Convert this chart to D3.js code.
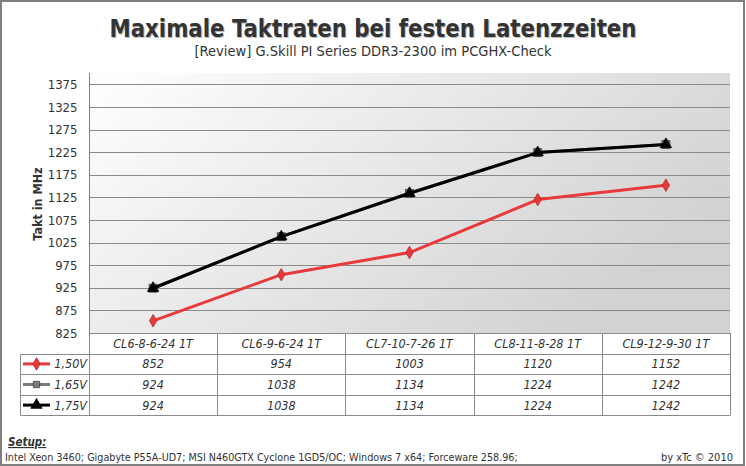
<!DOCTYPE html>
<html>
<head>
<meta charset="utf-8">
<script src="https://cdn.jsdelivr.net/npm/d3@7"></script>
<style>
  body { margin: 0; background: #fff; }
  svg { display: block; }
  text { font-family: "DejaVu Sans Condensed", "DejaVu Sans", sans-serif; font-stretch: condensed; fill: #333; }
</style>
</head>
<body>
<svg id="chart" width="746" height="466"></svg>
<script>
// data
const categories = ["CL6-8-6-24 1T", "CL6-9-6-24 1T", "CL7-10-7-26 1T", "CL8-11-8-28 1T", "CL9-12-9-30 1T"];
const seriesNames = ["1,50V", "1,65V", "1,75V"];
const values150 = [852, 954, 1003, 1120, 1152];
const values165 = [924, 1038, 1134, 1224, 1242];
const values175 = [924, 1038, 1134, 1224, 1242];
const yTicks = [825, 875, 925, 975, 1025, 1075, 1125, 1175, 1225, 1275, 1325, 1375];

const series = [
  {name: seriesNames[0], values: values150, color: "#e8393b", stroke: "#b52426", symbol: d3.symbolDiamond, size: 45},
  {name: seriesNames[1], values: values165, color: "#7a7a7a", stroke: "#444", symbol: d3.symbolSquare, size: 64},
  {name: seriesNames[2], values: values175, color: "#000", stroke: "#000", symbol: d3.symbolTriangle, size: 55}
];

const svg = d3.select("#chart");
const W = 746, H = 466;
const plot = {left: 89, right: 730, top: 73, bottom: 333};
const rowH = 20.6;

// outer frame
svg.append("rect").attr("x", 1).attr("y", 1).attr("width", W - 3).attr("height", H - 2)
  .attr("fill", "#fff").attr("stroke", "#7f7f7f").attr("stroke-width", 2);

// gradient background
const defs = svg.append("defs");
const grad = defs.append("linearGradient").attr("id", "bg")
  .attr("x1", 0).attr("y1", 0).attr("x2", 1).attr("y2", 0.5);
grad.append("stop").attr("offset", "0%").attr("stop-color", "#ffffff");
grad.append("stop").attr("offset", "100%").attr("stop-color", "#d2d2d2");

svg.append("rect")
  .attr("x", plot.left).attr("y", plot.top)
  .attr("width", plot.right - plot.left).attr("height", plot.bottom - plot.top)
  .attr("fill", "url(#bg)");

const x = d3.scaleBand().domain(categories).range([plot.left, plot.right]).padding(0);
const y = d3.scaleLinear().domain([825, 1400]).range([plot.bottom, plot.top]);
const cx = d => x(d) + x.bandwidth() / 2;

// gridlines
svg.append("g").selectAll("line").data(yTicks.slice(1)).join("line")
  .attr("x1", plot.left).attr("x2", plot.right)
  .attr("y1", d => Math.round(y(d)) + 0.5).attr("y2", d => Math.round(y(d)) + 0.5)
  .attr("stroke", "#8a8a8a").attr("stroke-width", 1);

// y axis
const yAxis = svg.append("g").attr("transform", `translate(${plot.left + 0.5},0)`)
  .call(d3.axisLeft(y).tickValues(yTicks).tickFormat(d3.format("d")).tickSize(0).tickPadding(12));
yAxis.select(".domain").attr("stroke", "#808080").attr("d", `M0,${plot.top}V${plot.bottom}`);
yAxis.selectAll("text").style("font-size", "13px").attr("fill", "#333")
  .style("font-family", "'DejaVu Sans Condensed','DejaVu Sans',sans-serif");

// axis title
svg.append("text")
  .attr("transform", `translate(42,${(plot.top + plot.bottom) / 2 + 1}) rotate(-90)`)
  .attr("text-anchor", "middle")
  .style("font-size", "12.5px").style("font-weight", "bold")
  .text("Takt in MHz");

// lines + markers
const line = d3.line().x((d, i) => cx(categories[i])).y(d => y(d));
series.forEach(s => {
  svg.append("path").datum(s.values)
    .attr("d", line).attr("fill", "none")
    .attr("stroke", s.color).attr("stroke-width", 3).attr("stroke-linejoin", "round");
  svg.append("g").selectAll("path").data(s.values).join("path")
    .attr("transform", (d, i) => `translate(${cx(categories[i])},${y(d)})`)
    .attr("d", d3.symbol(s.symbol, s.size))
    .attr("fill", s.color).attr("stroke", s.stroke).attr("stroke-width", 0.8);
});

// data table
const tbl = svg.append("g");
const gridColor = "#8a8a8a";
const rowsY = [plot.bottom, plot.bottom + rowH, plot.bottom + 2 * rowH, plot.bottom + 3 * rowH, plot.bottom + 4 * rowH];
const legendLeft = 20.5;

rowsY.forEach((ry, i) => {
  tbl.append("line")
    .attr("x1", i === 0 ? plot.left : legendLeft).attr("x2", plot.right)
    .attr("y1", Math.round(ry) + 0.5).attr("y2", Math.round(ry) + 0.5)
    .attr("stroke", gridColor);
});
categories.forEach(c => {
  tbl.append("line")
    .attr("x1", Math.round(x(c) + x.bandwidth()) + 0.5).attr("x2", Math.round(x(c) + x.bandwidth()) + 0.5)
    .attr("y1", plot.bottom).attr("y2", Math.round(rowsY[4]) + 0.5).attr("stroke", gridColor);
});
tbl.append("line").attr("x1", plot.left + 0.5).attr("x2", plot.left + 0.5)
  .attr("y1", plot.bottom).attr("y2", Math.round(rowsY[4]) + 0.5).attr("stroke", gridColor);
tbl.append("line").attr("x1", legendLeft).attr("x2", legendLeft)
  .attr("y1", Math.round(rowsY[1]) + 0.5).attr("y2", Math.round(rowsY[4]) + 0.5).attr("stroke", gridColor);

// header labels
tbl.selectAll("text.cat").data(categories).join("text").attr("class", "cat")
  .attr("x", d => cx(d)).attr("y", plot.bottom + rowH / 2 + 4.5)
  .attr("text-anchor", "middle").style("font-size", "12.5px").style("font-style", "italic")
  .text(d => d);

// value rows
series.forEach((s, r) => {
  const ry = rowsY[r + 1] + rowH / 2;
  tbl.append("g").selectAll("text").data(s.values).join("text")
    .attr("x", (d, i) => cx(categories[i])).attr("y", ry + 4.5)
    .attr("text-anchor", "middle").style("font-size", "12.5px").style("font-style", "italic")
    .text(d => d);
  // legend key
  tbl.append("line").attr("x1", 23).attr("x2", 50).attr("y1", ry).attr("y2", ry)
    .attr("stroke", s.color).attr("stroke-width", 3);
  tbl.append("path").attr("transform", `translate(36.5,${ry})`)
    .attr("d", d3.symbol(s.symbol, s.symbol === d3.symbolSquare ? 40 : s.size))
    .attr("fill", s.color).attr("stroke", s.stroke).attr("stroke-width", 0.8);
  tbl.append("text").attr("x", 87).attr("y", ry + 4.5).attr("text-anchor", "end")
    .style("font-size", "12.5px").style("font-style", "italic").text(s.name);
});

// titles
svg.append("text").attr("x", 373).attr("y", 37).attr("text-anchor", "middle")
  .attr("textLength", 527).attr("lengthAdjust", "spacingAndGlyphs")
  .style("font-size", "25px").style("font-weight", "bold")
  .style("text-shadow", "1px 1px 0 #bbb")
  .text("Maximale Taktraten bei festen Latenzzeiten");
svg.append("text").attr("x", 373).attr("y", 56).attr("text-anchor", "middle")
  .attr("textLength", 357).attr("lengthAdjust", "spacingAndGlyphs")
  .style("font-size", "14px")
  .text("[Review] G.Skill PI Series DDR3-2300 im PCGHX-Check");

// footer
svg.append("text").attr("x", 8).attr("y", 446)
  .style("font-size", "11.5px").style("font-weight", "bold").style("font-style", "italic")
  .style("text-decoration", "underline")
  .text("Setup:");
svg.append("text").attr("x", 5).attr("y", 461)
  .style("font-size", "10.7px")
  .text("Intel Xeon 3460; Gigabyte P55A-UD7; MSI N460GTX Cyclone 1GD5/OC; Windows 7 x64; Forceware 258.96;");
svg.append("text").attr("x", 733).attr("y", 461).attr("text-anchor", "end")
  .style("font-size", "11px")
  .text("by xTc © 2010");
</script>
</body>
</html>
